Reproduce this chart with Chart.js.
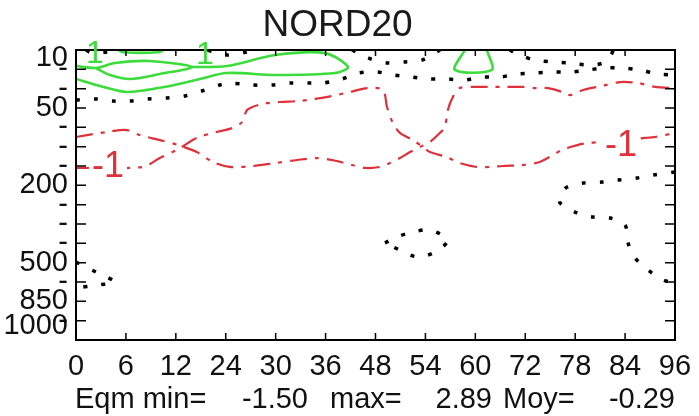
<!DOCTYPE html>
<html>
<head>
<meta charset="utf-8">
<script src="https://cdn.jsdelivr.net/npm/chart.js@4/dist/chart.umd.min.js"></script>
<style>
  html, body { margin: 0; padding: 0; background: #fff; }
</style>
</head>
<body>
<canvas id="chart" width="699" height="416"></canvas>
<script>
// ===== DATA =====
// x = forecast step (position on the hour axis), y = model level (position on the pressure axis, 0 = top)
const hourLabels = ['0','6','12','24','30','36','48','54','60','72','78','84','96'];
const levelTickPos  = [0.4, 1, 2, 3, 4, 5, 6, 7, 8, 9, 10, 11, 12, 13, 14, 14.3];
const levelTickText = ['10','-','-','50','-','-','-','200','-','-','-','500','-','850','-','1000'];
const levelCount = 15;

const eqmMin = -1.50, eqmMax = 2.89, eqmMean = -0.29;

// +1 contours (green)
const posLens  = [[0,0.83],[0.40,0.93],[0.78,0.67],[1.48,0.57],[2.32,0.88],[1.68,1.24],[1.08,1.50],[0.68,1.29],[0.40,0.93]];
const posMain  = [[2.32,0.88],[3.02,0.83],[3.99,0.26],[4.99,0.16],[5.45,0.88],[5.19,1.19],[3.99,1.29],[3.02,1.19],[2.48,1.50],[1.88,1.86],[1.02,2.17],[0.48,1.86],[0,1.50]];
const posTop   = [[0.85,0],[0.95,0.12],[1.65,0.12],[1.75,0]];
const posRight = [[7.79,0],[7.59,1.03],[8.33,1.03],[8.23,0]];

// zero contours (black dotted)
const zeroMain  = [[0,2.59],[0.38,2.53],[0.74,2.64],[1.08,2.64],[1.44,2.53],[1.82,2.48],[2.18,2.38],[2.52,2.12],[2.88,1.81],[3.04,1.71],[3.53,1.81],[3.93,1.81],[4.29,1.71],[4.65,1.71],[4.95,1.71],[5.33,1.50],[5.65,1.19],[6.03,1.14],[6.35,1.29],[6.73,1.40],[7.05,1.50],[7.43,1.50],[7.79,1.55],[8.13,1.40],[8.49,1.40],[8.83,1.24],[9.19,1.19],[9.54,1.14],[9.90,1.14],[10.26,1.03],[10.60,0.93],[10.90,0.93],[11.30,1.03],[11.64,1.24],[12,1.29]];
const zeroTopA  = [[5.53,0],[5.85,0.41],[6.23,0.67],[6.59,0.62],[6.93,0.52],[7.23,0.10],[7.29,0]];
const zeroTopB  = [[8.69,0],[8.89,0.26],[9.19,0.52],[9.56,0.62],[9.90,0.67],[10.26,0.78],[10.56,0.67],[10.72,0.26],[10.76,0]];
const zeroTopC  = [[0.20,0],[0.32,0.16],[0.64,0.10],[0.74,0]];
const zeroTopD  = [[2.64,0],[2.74,0.10],[3.02,0.26],[3.43,0.10],[3.53,0]];
const zeroRight = [[12,6.31],[11.56,6.47],[11.24,6.62],[10.86,6.73],[10.54,6.83],[10.16,6.88],[9.84,7.09],[9.70,7.50],[9.70,7.92],[10.04,8.43],[10.36,8.64],[10.70,8.69],[11.00,9.05],[11.06,9.98],[11.20,10.76],[11.46,11.38],[11.76,11.90],[12,12.05]];
const zeroLoop  = [[6.19,9.98],[6.43,9.67],[6.75,9.42],[7.09,9.31],[7.45,9.83],[7.19,10.45],[6.85,10.71],[6.53,10.40],[6.19,9.98]];
const zeroLeft  = [[0,10.97],[0.44,11.54],[0.78,12.00],[0.42,12.16],[0,12.31]];

// -1 contours (red dash-dot)
const negA = [[0,4.50],[0.62,4.24],[1.02,4.14],[1.28,4.40],[1.68,4.66],[2.04,4.91],[2.42,5.28],[2.74,5.79],[3.08,6.05],[3.55,6.00],[3.99,5.85],[4.43,5.69],[4.83,5.59],[5.13,5.69],[5.53,5.95],[5.79,6.10],[6.09,6.05],[6.29,5.85],[6.49,5.59],[6.69,5.28],[6.89,5.02],[7.09,4.76],[7.29,4.29],[7.39,3.98],[7.45,3.10],[7.55,2.43],[7.69,1.97],[7.95,1.91],[8.29,1.91],[8.63,1.91],[8.95,1.91],[9.23,1.97],[9.46,1.97],[9.74,2.17],[9.90,2.33],[10.16,2.07],[10.54,1.86],[10.90,1.66],[11.26,1.71],[11.60,1.91],[12,1.97]];
const negB = [[0,6.10],[1.34,6.05],[1.68,5.59],[2.02,5.17],[2.42,4.55],[2.82,4.24],[3.13,4.04],[3.33,3.72],[3.43,3.10],[3.73,2.79],[4.09,2.69],[4.45,2.64],[4.79,2.53],[5.13,2.38],[5.49,2.17],[5.85,1.97],[6.15,2.07],[6.23,2.95],[6.35,3.78],[6.49,4.29],[6.75,4.66],[6.95,5.02],[7.09,5.28],[7.43,5.54],[7.69,5.85],[8.03,6.05],[8.29,6.05],[8.55,6.00],[8.95,5.95],[9.29,5.79],[9.74,5.17],[10.06,4.91],[10.26,4.81],[10.50,4.76],[10.90,4.66],[11.40,4.55],[11.60,4.50],[12,4.29]];

// contour labels
const labelText = ['1', '1', '-1', '-1'];
const labelPos  = [[0.38,0.22],[2.58,0.26],[0.64,6.05],[10.92,4.97]];
const labelKind = ['pos', 'pos', 'neg', 'neg'];

// ===== STYLE =====
const FONT = '"Liberation Sans", Arial, sans-serif';
const GREEN = '#3ddc3d', RED = '#e0303a', BLACK = '#000';

const styles = {
  pos:  { borderColor: GREEN, borderWidth: 2.6, borderDash: [] },
  zero: { borderColor: BLACK, borderWidth: 3.5, borderDash: [4, 14] },
  neg:  { borderColor: RED,   borderWidth: 2.2, borderDash: [17, 8, 4, 8] }
};

function contour(points, kind) {
  return {
    data: points.map(([x, y]) => ({ x, y })),
    showLine: true, pointRadius: 0, tension: 0.3, fill: false,
    ...styles[kind]
  };
}

const datasets = [
  contour(posLens, 'pos'), contour(posMain, 'pos'), contour(posTop, 'pos'), contour(posRight, 'pos'),
  contour(zeroMain, 'zero'), contour(zeroTopA, 'zero'), contour(zeroTopB, 'zero'), contour(zeroTopC, 'zero'),
  contour(zeroTopD, 'zero'), contour(zeroRight, 'zero'), contour(zeroLoop, 'zero'), contour(zeroLeft, 'zero'),
  contour(negA, 'neg'), contour(negB, 'neg')
];

// frame, inner tick marks, contour labels and the stats line
const framePlugin = {
  id: 'frame',
  afterDatasetsDraw(chart) {
    const { ctx, chartArea: a, scales: { x, y } } = chart;
    ctx.save();
    ctx.strokeStyle = BLACK;
    ctx.lineWidth = 1.5;
    ctx.beginPath();
    hourLabels.forEach((_, i) => {
      const px = x.getPixelForValue(i);
      ctx.moveTo(px, a.bottom); ctx.lineTo(px, a.bottom - 7);
      ctx.moveTo(px, a.top); ctx.lineTo(px, a.top + 6);
    });
    for (let i = 1; i < levelCount; i++) {
      const py = y.getPixelForValue(i);
      ctx.moveTo(a.left, py); ctx.lineTo(a.left + 10, py);
      ctx.moveTo(a.right, py); ctx.lineTo(a.right - 10, py);
    }
    ctx.stroke();
    ctx.lineWidth = 2;
    ctx.strokeRect(a.left, a.top, a.right - a.left, a.bottom - a.top);

    // contour labels
    ctx.textAlign = 'center';
    ctx.textBaseline = 'middle';
    labelText.forEach((t, i) => {
      const px = x.getPixelForValue(labelPos[i][0]);
      const py = y.getPixelForValue(labelPos[i][1]);
      if (labelKind[i] === 'neg') {
        ctx.font = '36px ' + FONT;
        const w = ctx.measureText(t).width;
        ctx.fillStyle = '#fff';
        ctx.fillRect(px - w / 2 - 3, py - 15, w + 6, 30);
        ctx.fillStyle = RED;
      } else {
        ctx.font = '32px ' + FONT;
        ctx.fillStyle = GREEN;
      }
      ctx.fillText(t, px, py);
    });
    ctx.restore();
  },
  afterDraw(chart) {
    const { ctx } = chart;
    ctx.save();
    ctx.font = '29px ' + FONT;
    ctx.fillStyle = '#111';
    ctx.textBaseline = 'alphabetic';
    const base = 408;
    ctx.textAlign = 'left';
    ctx.fillText('Eqm min=', 75, base);
    ctx.fillText('max=', 330, base);
    ctx.fillText('Moy=', 503, base);
    ctx.textAlign = 'right';
    ctx.fillText(eqmMin.toFixed(2), 308, base);
    ctx.fillText(eqmMax.toFixed(2), 492, base);
    ctx.fillText(eqmMean.toFixed(2), 675, base);
    ctx.restore();
  }
};

new Chart(document.getElementById('chart'), {
  type: 'scatter',
  data: { datasets },
  options: {
    responsive: false,
    animation: false,
    layout: { padding: { left: 0, right: 24, top: 0, bottom: 0 } },
    plugins: {
      legend: { display: false },
      tooltip: { enabled: false },
      title: {
        display: true, text: 'NORD20', color: '#1a1a1a',
        font: { family: FONT, size: 37, weight: 'normal', lineHeight: 1 },
        padding: { top: 7, bottom: 6 }
      }
    },
    scales: {
      x: {
        type: 'linear', min: 0, max: hourLabels.length - 1,
        grid: { display: false, drawTicks: false },
        border: { display: false },
        afterBuildTicks: ax => { ax.ticks = hourLabels.map((_, i) => ({ value: i })); },
        afterFit: s => { s.height = 76; s.paddingLeft = 0; s.paddingRight = 0; },
        ticks: {
          autoSkip: false, maxRotation: 0, padding: 10, color: '#111',
          font: { family: FONT, size: 29 },
          callback: v => hourLabels[v] ?? ''
        }
      },
      y: {
        type: 'linear', reverse: true, min: 0, max: levelCount,
        grid: { display: false, drawTicks: false },
        border: { display: false },
        afterBuildTicks: ax => { ax.ticks = levelTickPos.map(v => ({ value: v })); },
        afterFit: s => { s.width = 76; s.paddingTop = 0; s.paddingBottom = 0; },
        ticks: {
          autoSkip: false, padding: 8, color: '#111',
          font: { family: FONT, size: 29 },
          callback: (v, i) => levelTickText[i]
        }
      }
    }
  },
  plugins: [framePlugin]
});
</script>
</body>
</html>
